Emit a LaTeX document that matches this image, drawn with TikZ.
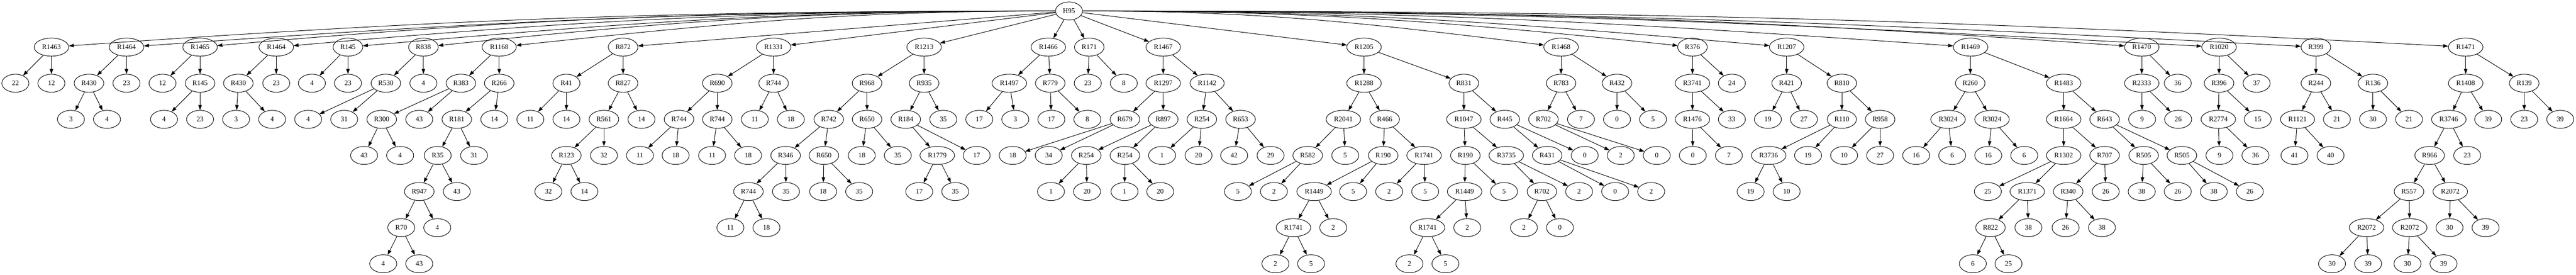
\documentclass[tikz,border=0pt]{standalone}
\usepackage{fontspec}
\setmainfont{Liberation Serif}
\usepackage{tikz}
\usetikzlibrary{shapes.geometric}
\usetikzlibrary{arrows.meta}
\tikzset{gn/.style={draw,ellipse,minimum width=54pt,minimum height=36pt,inner xsep=5.75pt,inner ysep=2pt,font=\fontsize{14}{16}\selectfont}}

\begin{document}
\begin{tikzpicture}[x=0.75pt,y=-72.04pt,line width=1pt,>={Triangle[length=10pt,width=7pt]}]
\useasboundingbox (0,-0.305) rectangle (6863,7.306);
% level 0
\node[gn] (h95) at (2848,0) {H95};
% level 1
\node[gn] (r1463) at (137,1) {R1463};
\node[gn] (r1464a) at (337,1) {R1464};
\node[gn] (r1465) at (533,1) {R1465};
\node[gn] (r1464b) at (736,1) {R1464};
\node[gn] (r145a) at (927,1) {R145};
\node[gn] (r838) at (1128,1) {R838};
\node[gn] (r1168) at (1330,1) {R1168};
\node[gn] (r872) at (1660,1) {R872};
\node[gn] (r1331) at (2061,1) {R1331};
\node[gn] (r1213) at (2462,1) {R1213};
\node[gn] (r1466) at (2793,1) {R1466};
\node[gn] (r171) at (2902,1) {R171};
\node[gn] (r1467) at (3099,1) {R1467};
\node[gn] (r1205) at (3634,1) {R1205};
\node[gn] (r1468) at (4159,1) {R1468};
\node[gn] (r376) at (4509,1) {R376};
\node[gn] (r1207) at (4760,1) {R1207};
\node[gn] (r1469) at (5250,1) {R1469};
\node[gn] (r1470) at (5706,1) {R1470};
\node[gn] (r1020) at (5912,1) {R1020};
\node[gn] (r399) at (6170,1) {R399};
\node[gn] (r1471) at (6569,1) {R1471};
% level 2
\node[gn] (l22) at (41,2) {22};
\node[gn] (l12a) at (137,2) {12};
\node[gn] (r430a) at (237,2) {R430};
\node[gn] (l23a) at (337,2) {23};
\node[gn] (l12b) at (433,2) {12};
\node[gn] (r145b) at (533,2) {R145};
\node[gn] (r430b) at (635,2) {R430};
\node[gn] (l23b) at (736,2) {23};
\node[gn] (l4a) at (831,2) {4};
\node[gn] (l23c) at (927,2) {23};
\node[gn] (r530) at (1028,2) {R530};
\node[gn] (l4b) at (1128,2) {4};
\node[gn] (r383) at (1228,2) {R383};
\node[gn] (r266) at (1330,2) {R266};
\node[gn] (r41) at (1509,2) {R41};
\node[gn] (r827) at (1660,2) {R827};
\node[gn] (r690) at (1911,2) {R690};
\node[gn] (r744a) at (2061,2) {R744};
\node[gn] (r968) at (2310,2) {R968};
\node[gn] (r935) at (2462,2) {R935};
\node[gn] (r1497) at (2689,2) {R1497};
\node[gn] (r779) at (2798,2) {R779};
\node[gn] (l23d) at (2898,2) {23};
\node[gn] (l8a) at (2994,2) {8};
\node[gn] (r1297) at (3099,2) {R1297};
\node[gn] (r1142) at (3216,2) {R1142};
\node[gn] (r1288) at (3634,2) {R1288};
\node[gn] (r831) at (3900,2) {R831};
\node[gn] (r783) at (4159,2) {R783};
\node[gn] (r432) at (4308,2) {R432};
\node[gn] (r3741) at (4509,2) {R3741};
\node[gn] (l24) at (4614,2) {24};
\node[gn] (r421) at (4760,2) {R421};
\node[gn] (r810) at (4907,2) {R810};
\node[gn] (r260) at (5249,2) {R260};
\node[gn] (r1483) at (5498,2) {R1483};
\node[gn] (r2333) at (5706,2) {R2333};
\node[gn] (l36a) at (5802,2) {36};
\node[gn] (r396) at (5912,2) {R396};
\node[gn] (l37) at (6012,2) {37};
\node[gn] (r244) at (6170,2) {R244};
\node[gn] (r136) at (6322,2) {R136};
\node[gn] (r1408) at (6569,2) {R1408};
\node[gn] (r139) at (6725,2) {R139};
% level 3
\node[gn] (l3a) at (189,3) {3};
\node[gn] (l4c) at (285,3) {4};
\node[gn] (l4d) at (437,3) {4};
\node[gn] (l23e) at (533,3) {23};
\node[gn] (l3b) at (629,3) {3};
\node[gn] (l4e) at (725,3) {4};
\node[gn] (l4f) at (821,3) {4};
\node[gn] (l31a) at (917,3) {31};
\node[gn] (r300) at (1017,3) {R300};
\node[gn] (l43a) at (1117,3) {43};
\node[gn] (r181) at (1217,3) {R181};
\node[gn] (l14a) at (1317,3) {14};
\node[gn] (l11a) at (1413,3) {11};
\node[gn] (l14b) at (1509,3) {14};
\node[gn] (r561) at (1609,3) {R561};
\node[gn] (l14c) at (1709,3) {14};
\node[gn] (r744b) at (1809,3) {R744};
\node[gn] (r744c) at (1911,3) {R744};
\node[gn] (l11b) at (2011,3) {11};
\node[gn] (l18a) at (2107,3) {18};
\node[gn] (r742) at (2208,3) {R742};
\node[gn] (r650a) at (2310,3) {R650};
\node[gn] (r184) at (2413,3) {R184};
\node[gn] (l35a) at (2513,3) {35};
\node[gn] (l17a) at (2609,3) {17};
\node[gn] (l3c) at (2705,3) {3};
\node[gn] (l17b) at (2801,3) {17};
\node[gn] (l8b) at (2897,3) {8};
\node[gn] (r679) at (2997,3) {R679};
\node[gn] (r897) at (3099,3) {R897};
\node[gn] (r254a) at (3202,3) {R254};
\node[gn] (r653) at (3305,3) {R653};
\node[gn] (r2041) at (3579,3) {R2041};
\node[gn] (r466) at (3689,3) {R466};
\node[gn] (r1047) at (3900,3) {R1047};
\node[gn] (r445) at (4009,3) {R445};
\node[gn] (r702a) at (4112,3) {R702};
\node[gn] (l7a) at (4212,3) {7};
\node[gn] (l0a) at (4308,3) {0};
\node[gn] (l5a) at (4404,3) {5};
\node[gn] (r1476) at (4509,3) {R1476};
\node[gn] (l33) at (4614,3) {33};
\node[gn] (l19a) at (4710,3) {19};
\node[gn] (l27a) at (4806,3) {27};
\node[gn] (r110) at (4907,3) {R110};
\node[gn] (r958) at (5009,3) {R958};
\node[gn] (r3024a) at (5190,3) {R3024};
\node[gn] (r3024b) at (5307,3) {R3024};
\node[gn] (r1664) at (5498,3) {R1664};
\node[gn] (r643) at (5607,3) {R643};
\node[gn] (l9a) at (5707,3) {9};
\node[gn] (l26a) at (5803,3) {26};
\node[gn] (r2774) at (5910,3) {R2774};
\node[gn] (l15) at (6015,3) {15};
\node[gn] (r1121) at (6121,3) {R1121};
\node[gn] (l21a) at (6226,3) {21};
\node[gn] (l30a) at (6322,3) {30};
\node[gn] (l21b) at (6418,3) {21};
\node[gn] (r3746) at (6524,3) {R3746};
\node[gn] (l39a) at (6629,3) {39};
\node[gn] (l23f) at (6725,3) {23};
\node[gn] (l39b) at (6821,3) {39};
% level 4
\node[gn] (l43b) at (970,4) {43};
\node[gn] (l4g) at (1066,4) {4};
\node[gn] (r35) at (1166,4) {R35};
\node[gn] (l31b) at (1263,4) {31};
\node[gn] (r123) at (1509,4) {R123};
\node[gn] (l32a) at (1609,4) {32};
\node[gn] (l11c) at (1705,4) {11};
\node[gn] (l18b) at (1800,4) {18};
\node[gn] (l11d) at (1897,4) {11};
\node[gn] (l18c) at (1993,4) {18};
\node[gn] (r346) at (2093,4) {R346};
\node[gn] (r650b) at (2195,4) {R650};
\node[gn] (l18d) at (2296,4) {18};
\node[gn] (l35b) at (2392,4) {35};
\node[gn] (r1779) at (2497,4) {R1779};
\node[gn] (l17c) at (2602,4) {17};
\node[gn] (l18e) at (2698,4) {18};
\node[gn] (l34) at (2794,4) {34};
\node[gn] (r254b) at (2894,4) {R254};
\node[gn] (r254c) at (2997,4) {R254};
\node[gn] (l1a) at (3096,4) {1};
\node[gn] (l20a) at (3193,4) {20};
\node[gn] (l42) at (3288,4) {42};
\node[gn] (l29) at (3385,4) {29};
\node[gn] (r582) at (3484,4) {R582};
\node[gn] (l5b) at (3584,4) {5};
\node[gn] (r190a) at (3685,4) {R190};
\node[gn] (r1741a) at (3794,4) {R1741};
\node[gn] (r190b) at (3904,4) {R190};
\node[gn] (r3735) at (4013,4) {R3735};
\node[gn] (r431) at (4122,4) {R431};
\node[gn] (l0b) at (4222,4) {0};
\node[gn] (l2a) at (4318,4) {2};
\node[gn] (l0c) at (4414,4) {0};
\node[gn] (l0d) at (4510,4) {0};
\node[gn] (l7b) at (4606,4) {7};
\node[gn] (r3736) at (4712,4) {R3736};
\node[gn] (l19b) at (4817,4) {19};
\node[gn] (l10a) at (4913,4) {10};
\node[gn] (l27b) at (5009,4) {27};
\node[gn] (l16a) at (5105,4) {16};
\node[gn] (l6a) at (5201,4) {6};
\node[gn] (l16b) at (5297,4) {16};
\node[gn] (l6b) at (5393,4) {6};
\node[gn] (r1302) at (5498,4) {R1302};
\node[gn] (r707) at (5607,4) {R707};
\node[gn] (r505a) at (5711,4) {R505};
\node[gn] (r505b) at (5813,4) {R505};
\node[gn] (l9b) at (5913,4) {9};
\node[gn] (l36b) at (6009,4) {36};
\node[gn] (l41) at (6113,4) {41};
\node[gn] (l40) at (6209,4) {40};
\node[gn] (r966) at (6473,4) {R966};
\node[gn] (l23g) at (6573,4) {23};
% level 5
\node[gn] (r947) at (1117,5) {R947};
\node[gn] (l43c) at (1217,5) {43};
\node[gn] (l32b) at (1461,5) {32};
\node[gn] (l14d) at (1557,5) {14};
\node[gn] (r744d) at (1994,5) {R744};
\node[gn] (l35c) at (2094,5) {35};
\node[gn] (l18f) at (2193,5) {18};
\node[gn] (l35d) at (2289,5) {35};
\node[gn] (l17d) at (2449,5) {17};
\node[gn] (l35e) at (2545,5) {35};
\node[gn] (l1b) at (2800,5) {1};
\node[gn] (l20b) at (2896,5) {20};
\node[gn] (l1c) at (2996,5) {1};
\node[gn] (l20c) at (3091,5) {20};
\node[gn] (l5c) at (3298,5) {5};
\node[gn] (l2b) at (3394,5) {2};
\node[gn] (r1449a) at (3501,5) {R1449};
\node[gn] (l5d) at (3605,5) {5};
\node[gn] (l2c) at (3701,5) {2};
\node[gn] (l5e) at (3797,5) {5};
\node[gn] (r1449b) at (3902,5) {R1449};
\node[gn] (l5f) at (4007,5) {5};
\node[gn] (r702b) at (4108,5) {R702};
\node[gn] (l2d) at (4207,5) {2};
\node[gn] (l0e) at (4303,5) {0};
\node[gn] (l2e) at (4399,5) {2};
\node[gn] (l19c) at (4664,5) {19};
\node[gn] (l10b) at (4760,5) {10};
\node[gn] (l25a) at (5296,5) {25};
\node[gn] (r1371) at (5401,5) {R1371};
\node[gn] (r340) at (5510,5) {R340};
\node[gn] (l26b) at (5610,5) {26};
\node[gn] (l38a) at (5706,5) {38};
\node[gn] (l26c) at (5802,5) {26};
\node[gn] (l38b) at (5898,5) {38};
\node[gn] (l26d) at (5994,5) {26};
\node[gn] (r557) at (6418,5) {R557};
\node[gn] (r2072a) at (6528,5) {R2072};
% level 6
\node[gn] (r70) at (1069,6) {R70};
\node[gn] (l4h) at (1165,6) {4};
\node[gn] (l11e) at (1946,6) {11};
\node[gn] (l18g) at (2042,6) {18};
\node[gn] (r1741b) at (3446,6) {R1741};
\node[gn] (l2f) at (3552,6) {2};
\node[gn] (r1741c) at (3803,6) {R1741};
\node[gn] (l2g) at (3909,6) {2};
\node[gn] (l2h) at (4060,6) {2};
\node[gn] (l0f) at (4156,6) {0};
\node[gn] (r822) at (5303,6) {R822};
\node[gn] (l38c) at (5404,6) {38};
\node[gn] (l26e) at (5503,6) {26};
\node[gn] (l38d) at (5600,6) {38};
\node[gn] (r2072b) at (6305,6) {R2072};
\node[gn] (r2072c) at (6420,6) {R2072};
\node[gn] (l30b) at (6526,6) {30};
\node[gn] (l39c) at (6622,6) {39};
% level 7
\node[gn] (l4i) at (1021,7) {4};
\node[gn] (l43d) at (1117,7) {43};
\node[gn] (l2i) at (3398,7) {2};
\node[gn] (l5g) at (3493,7) {5};
\node[gn] (l2j) at (3755,7) {2};
\node[gn] (l5h) at (3851,7) {5};
\node[gn] (l6c) at (5256,7) {6};
\node[gn] (l25b) at (5351,7) {25};
\node[gn] (l30c) at (6213,7) {30};
\node[gn] (l39d) at (6309,7) {39};
\node[gn] (l30d) at (6414,7) {30};
\node[gn] (l39e) at (6510,7) {39};
% edges from the root
\draw[->] (h95.west) .. controls +(-769pt,0pt) and +(767pt,54pt) .. (r1463.4);
\draw[->] (h95.west) .. controls +(-710pt,0pt) and +(708pt,50pt) .. (r1464a.4);
\draw[->] (h95.west) .. controls +(-653pt,0pt) and +(651pt,57pt) .. (r1465.5);
\draw[->] (h95.west) .. controls +(-594pt,0pt) and +(592pt,52pt) .. (r1464b.5);
\draw[->] (h95.west) .. controls +(-540pt,0pt) and +(538pt,47pt) .. (r145a.5);
\draw[->] (h95.west) .. controls +(-481pt,0pt) and +(478pt,50pt) .. (r838.6);
\draw[->] (h95.west) .. controls +(-420pt,0pt) and +(418pt,44pt) .. (r1168.6);
\draw[->] (h95) -- (r872);
\draw[->] (h95) -- (r1331);
\draw[->] (h95) -- (r1213);
\draw[->] (h95) -- (r1466);
\draw[->] (h95) -- (r171);
\draw[->] (h95) -- (r1467);
\draw[->] (h95) -- (r1205);
\draw[->] (h95.east) .. controls +(359pt,0pt) and +(-356pt,44pt) .. (r1468.173);
\draw[->] (h95.east) .. controls +(464pt,0pt) and +(-461pt,48pt) .. (r376.174);
\draw[->] (h95.east) .. controls +(535pt,0pt) and +(-533pt,47pt) .. (r1207.175);
\draw[->] (h95.east) .. controls +(679pt,0pt) and +(-677pt,47pt) .. (r1469.176);
\draw[->] (h95.east) .. controls +(812pt,0pt) and +(-810pt,57pt) .. (r1470.176);
\draw[->] (h95.east) .. controls +(872pt,0pt) and +(-871pt,46pt) .. (r1020.177);
\draw[->] (h95.east) .. controls +(949pt,0pt) and +(-948pt,50pt) .. (r399.177);
\draw[->] (h95.east) .. controls +(1064pt,0pt) and +(-1063pt,56pt) .. (r1471.177);
% edges below
\draw[->] (r1463) edge (l22) edge (l12a);
\draw[->] (r1464a) edge (r430a) edge (l23a);
\draw[->] (r430a) edge (l3a) edge (l4c);
\draw[->] (r1465) edge (l12b) edge (r145b);
\draw[->] (r145b) edge (l4d) edge (l23e);
\draw[->] (r1464b) edge (r430b) edge (l23b);
\draw[->] (r430b) edge (l3b) edge (l4e);
\draw[->] (r145a) edge (l4a) edge (l23c);
\draw[->] (r838) edge (r530) edge (l4b);
\draw[->] (r530) edge (l4f) edge (l31a);
\draw[->] (r1168) edge (r383) edge (r266);
\draw[->] (r383) edge (r300) edge (l43a);
\draw[->] (r300) edge (l43b) edge (l4g);
\draw[->] (r266) edge (r181) edge (l14a);
\draw[->] (r181) edge (r35) edge (l31b);
\draw[->] (r35) edge (r947) edge (l43c);
\draw[->] (r947) edge (r70) edge (l4h);
\draw[->] (r70) edge (l4i) edge (l43d);
\draw[->] (r872) edge (r41) edge (r827);
\draw[->] (r41) edge (l11a) edge (l14b);
\draw[->] (r827) edge (r561) edge (l14c);
\draw[->] (r561) edge (r123) edge (l32a);
\draw[->] (r123) edge (l32b) edge (l14d);
\draw[->] (r1331) edge (r690) edge (r744a);
\draw[->] (r690) edge (r744b) edge (r744c);
\draw[->] (r744b) edge (l11c) edge (l18b);
\draw[->] (r744c) edge (l11d) edge (l18c);
\draw[->] (r744a) edge (l11b) edge (l18a);
\draw[->] (r1213) edge (r968) edge (r935);
\draw[->] (r968) edge (r742) edge (r650a);
\draw[->] (r742) edge (r346) edge (r650b);
\draw[->] (r346) edge (r744d) edge (l35c);
\draw[->] (r744d) edge (l11e) edge (l18g);
\draw[->] (r650b) edge (l18f) edge (l35d);
\draw[->] (r650a) edge (l18d) edge (l35b);
\draw[->] (r935) edge (r184) edge (l35a);
\draw[->] (r184) edge (r1779) edge (l17c);
\draw[->] (r1779) edge (l17d) edge (l35e);
\draw[->] (r1466) edge (r1497) edge (r779);
\draw[->] (r1497) edge (l17a) edge (l3c);
\draw[->] (r779) edge (l17b) edge (l8b);
\draw[->] (r171) edge (l23d) edge (l8a);
\draw[->] (r1467) edge (r1297) edge (r1142);
\draw[->] (r1297) edge (r679) edge (r897);
\draw[->] (r679) edge (l18e) edge (l34);
\draw[->] (r897) edge (r254b) edge (r254c);
\draw[->] (r254b) edge (l1b) edge (l20b);
\draw[->] (r254c) edge (l1c) edge (l20c);
\draw[->] (r1142) edge (r254a) edge (r653);
\draw[->] (r254a) edge (l1a) edge (l20a);
\draw[->] (r653) edge (l42) edge (l29);
\draw[->] (r1205) edge (r1288) edge (r831);
\draw[->] (r1288) edge (r2041) edge (r466);
\draw[->] (r2041) edge (r582) edge (l5b);
\draw[->] (r582) edge (l5c) edge (l2b);
\draw[->] (r466) edge (r190a) edge (r1741a);
\draw[->] (r190a) edge (r1449a) edge (l5d);
\draw[->] (r1449a) edge (r1741b) edge (l2f);
\draw[->] (r1741b) edge (l2i) edge (l5g);
\draw[->] (r1741a) edge (l2c) edge (l5e);
\draw[->] (r831) edge (r1047) edge (r445);
\draw[->] (r1047) edge (r190b) edge (r3735);
\draw[->] (r190b) edge (r1449b) edge (l5f);
\draw[->] (r1449b) edge (r1741c) edge (l2g);
\draw[->] (r1741c) edge (l2j) edge (l5h);
\draw[->] (r3735) edge (r702b) edge (l2d);
\draw[->] (r702b) edge (l2h) edge (l0f);
\draw[->] (r445) edge (r431) edge (l0b);
\draw[->] (r431) edge (l0e) edge (l2e);
\draw[->] (r1468) edge (r783) edge (r432);
\draw[->] (r783) edge (r702a) edge (l7a);
\draw[->] (r702a) edge (l2a) edge (l0c);
\draw[->] (r432) edge (l0a) edge (l5a);
\draw[->] (r376) edge (r3741) edge (l24);
\draw[->] (r3741) edge (r1476) edge (l33);
\draw[->] (r1476) edge (l0d) edge (l7b);
\draw[->] (r1207) edge (r421) edge (r810);
\draw[->] (r421) edge (l19a) edge (l27a);
\draw[->] (r810) edge (r110) edge (r958);
\draw[->] (r110) edge (r3736) edge (l19b);
\draw[->] (r3736) edge (l19c) edge (l10b);
\draw[->] (r958) edge (l10a) edge (l27b);
\draw[->] (r1469) edge (r260) edge (r1483);
\draw[->] (r260) edge (r3024a) edge (r3024b);
\draw[->] (r3024a) edge (l16a) edge (l6a);
\draw[->] (r3024b) edge (l16b) edge (l6b);
\draw[->] (r1483) edge (r1664) edge (r643);
\draw[->] (r1664) edge (r1302) edge (r707);
\draw[->] (r1302) edge (l25a) edge (r1371);
\draw[->] (r1371) edge (r822) edge (l38c);
\draw[->] (r822) edge (l6c) edge (l25b);
\draw[->] (r707) edge (r340) edge (l26b);
\draw[->] (r340) edge (l26e) edge (l38d);
\draw[->] (r643) edge (r505a) edge (r505b);
\draw[->] (r505a) edge (l38a) edge (l26c);
\draw[->] (r505b) edge (l38b) edge (l26d);
\draw[->] (r1470) edge (r2333) edge (l36a);
\draw[->] (r2333) edge (l9a) edge (l26a);
\draw[->] (r1020) edge (r396) edge (l37);
\draw[->] (r396) edge (r2774) edge (l15);
\draw[->] (r2774) edge (l9b) edge (l36b);
\draw[->] (r399) edge (r244) edge (r136);
\draw[->] (r244) edge (r1121) edge (l21a);
\draw[->] (r1121) edge (l41) edge (l40);
\draw[->] (r136) edge (l30a) edge (l21b);
\draw[->] (r1471) edge (r1408) edge (r139);
\draw[->] (r1408) edge (r3746) edge (l39a);
\draw[->] (r3746) edge (r966) edge (l23g);
\draw[->] (r966) edge (r557) edge (r2072a);
\draw[->] (r557) edge (r2072b) edge (r2072c);
\draw[->] (r2072b) edge (l30c) edge (l39d);
\draw[->] (r2072c) edge (l30d) edge (l39e);
\draw[->] (r2072a) edge (l30b) edge (l39c);
\draw[->] (r139) edge (l23f) edge (l39b);
\end{tikzpicture}
\end{document}
